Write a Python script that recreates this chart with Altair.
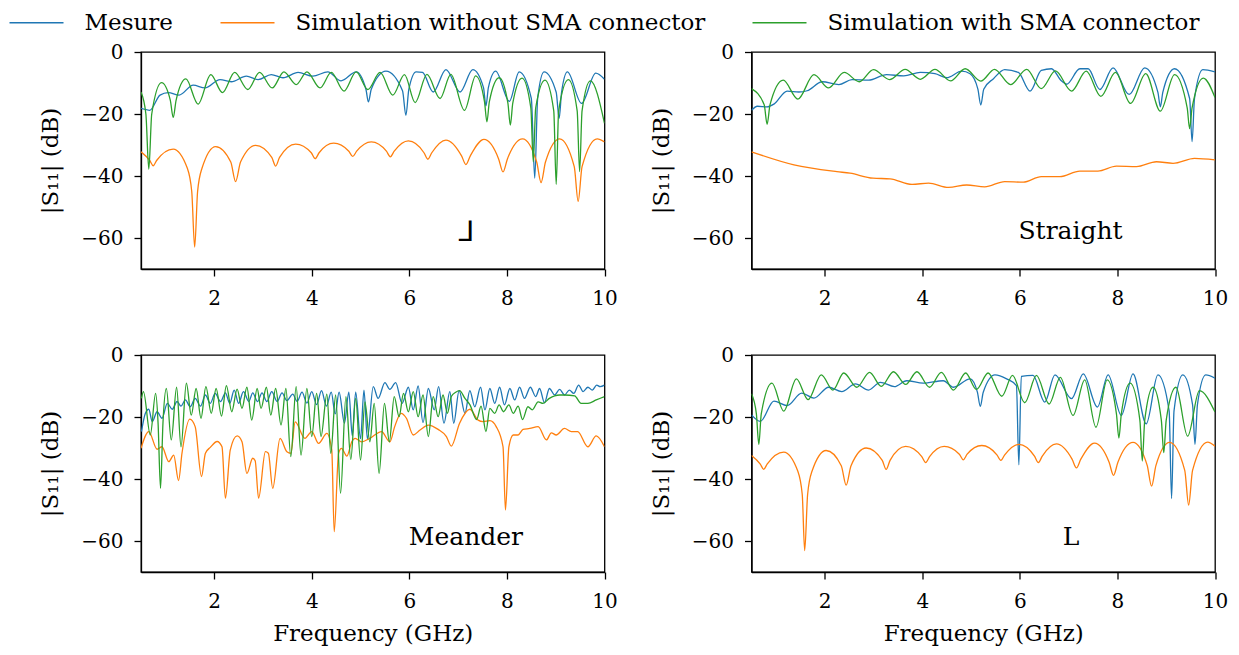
import altair as alt
import pandas as pd

SERIES = ["Mesure", "Simulation without SMA connector", "Simulation with SMA connector"]
COLORS = ["#1f77b4", "#ff7f0e", "#2ca02c"]

# ---------------- Panel "⅃" (top left) ----------------
J_MES = [(0.50,-18.2),(0.68,-18.8),(0.89,-13.9),(1.06,-13.1),(1.28,-13.9),(1.57,-10.7),(1.81,-11.6),
         (2.12,-8.9),(2.35,-9.6),(2.66,-7.8),(2.90,-8.9),(3.17,-7.3),(3.41,-8.3),(3.72,-6.6),(4.02,-7.8),
         (4.33,-6.4),(4.60,-9.3),(4.91,-6.4),(5.11,-12.0),(5.16,-16.1),(5.22,-12.0),(5.52,-6.2),(5.86,-12.5),
         (5.93,-20.4),(5.99,-12.0),(6.14,-6.4),(6.27,-6.6),(6.49,-12.9),(6.75,-5.7),(7.04,-12.9),(7.30,-5.7),
         (7.52,-11.5),(7.57,-17.4),(7.62,-11.5),(7.77,-6.2),(8.05,-15.9),(8.25,-6.4),(8.50,-15.0),(8.57,-40.7),
         (8.63,-15.0),(8.76,-6.4),(9.01,-13.0),(9.07,-21.4),(9.12,-13.0),(9.24,-6.4),(9.53,-16.6),(9.82,-6.8),
         (10.0,-8.8)]
J_NO = [(0.50,-32.2),(0.68,-35.0),(0.75,-36.7),(0.82,-35.0),(1.16,-31.3),(1.45,-37.5),(1.54,-45.0),(1.60,-62.9),
        (1.66,-45.0),(1.75,-37.5),(2.03,-30.5),(2.34,-35.5),(2.44,-41.8),(2.54,-35.5),(2.85,-30.1),(3.18,-34.0),
        (3.26,-36.8),(3.34,-34.0),(3.67,-29.7),(3.99,-32.5),(4.07,-34.4),(4.15,-32.5),(4.45,-29.4),(4.76,-32.0),
        (4.84,-33.7),(4.92,-32.0),(5.22,-29.0),(5.53,-32.0),(5.61,-33.8),(5.69,-32.0),(5.98,-28.7),(6.30,-32.5),
        (6.38,-34.6),(6.46,-32.5),(6.75,-28.4),(7.07,-33.5),(7.16,-36.3),(7.25,-33.5),(7.53,-28.2),(7.83,-34.5),
        (7.92,-38.7),(8.01,-34.5),(8.32,-28.0),(8.61,-35.5),(8.70,-42.1),(8.79,-35.5),(9.08,-28.0),(9.38,-37.0),
        (9.46,-48.2),(9.54,-37.0),(9.85,-28.0),(10.0,-29.0)]
J_SMA = [(0.50,-12.9),(0.60,-20.0),(0.66,-37.8),(0.72,-20.0),(0.92,-9.9),(1.10,-15.5),(1.16,-21.1),(1.22,-15.5),
         (1.42,-8.7),(1.67,-16.8),(1.93,-7.3),(2.17,-13.1),(2.42,-6.6),(2.69,-12.1),(2.93,-6.6),(3.19,-11.6),
         (3.43,-6.4),(3.68,-10.5),(3.90,-6.4),(4.17,-11.6),(4.40,-6.6),(4.66,-12.6),(4.91,-6.4),(5.15,-12.1),
         (5.40,-6.6),(5.66,-13.9),(5.90,-7.3),(6.12,-16.3),(6.36,-7.2),(6.63,-15.0),(6.85,-7.2),(7.13,-18.8),
         (7.36,-7.7),(7.54,-16.0),(7.59,-22.5),(7.64,-16.0),(7.84,-8.3),(8.02,-16.5),(8.07,-23.6),(8.12,-16.5),
         (8.31,-8.4),(8.49,-18.0),(8.54,-35.4),(8.59,-18.0),(8.78,-9.1),(8.96,-19.0),(9.01,-42.7),(9.06,-19.0),
         (9.26,-8.9),(9.44,-19.0),(9.49,-38.6),(9.54,-19.0),(9.71,-9.3),(10.0,-23.0)]

# ---------------- Panel "Straight" (top right) ----------------
S_MES = [(0.50,-18.8),(0.62,-17.5),(0.82,-17.7),(0.96,-16.8),(1.23,-12.6),(1.47,-12.9),(1.64,-12.5),(1.95,-9.6),
         (2.29,-10.5),(2.56,-8.9),(2.90,-9.1),(3.27,-7.3),(3.62,-7.7),(3.96,-6.6),(4.26,-7.0),(4.50,-8.3),
         (4.81,-6.2),(4.98,-7.0),(5.14,-12.0),(5.20,-17.1),(5.26,-12.0),(5.46,-8.6),(5.69,-5.7),(5.97,-6.6),
         (6.21,-12.6),(6.44,-5.9),(6.65,-5.4),(6.85,-9.3),(6.96,-10.4),(7.23,-5.4),(7.40,-5.4),(7.64,-12.1),
         (7.91,-5.1),(8.24,-13.7),(8.56,-5.1),(8.83,-13.0),(8.88,-17.7),(8.93,-13.0),(9.17,-5.4),(9.48,-15.0),
         (9.53,-28.9),(9.58,-15.0),(9.75,-5.7),(10.0,-6.4)]
S_NO = [(0.50,-32.2),(1.37,-36.4),(2.25,-38.6),(2.52,-39.1),(2.99,-40.7),(3.34,-40.9),(3.79,-42.7),(4.13,-42.3),
        (4.54,-43.7),(4.91,-42.9),(5.28,-43.5),(5.69,-41.8),(6.07,-42.0),(6.44,-40.2),(6.82,-40.2),(7.23,-38.4),
        (7.60,-38.4),(7.98,-36.8),(8.39,-37.0),(8.80,-35.4),(9.14,-35.9),(9.58,-34.3),(10.0,-34.8)]
S_SMA = [(0.50,-11.8),(0.76,-17.0),(0.82,-23.3),(0.88,-17.0),(1.15,-9.1),(1.45,-15.2),(1.78,-7.3),(2.08,-11.6),
         (2.40,-6.6),(2.71,-9.6),(3.00,-5.7),(3.33,-8.9),(3.65,-5.6),(3.96,-8.8),(4.26,-5.6),(4.58,-9.3),
         (4.88,-5.4),(5.20,-9.4),(5.48,-5.6),(5.81,-10.5),(6.14,-5.6),(6.44,-11.8),(6.73,-6.1),(7.06,-12.6),
         (7.36,-6.2),(7.66,-14.3),(7.96,-6.6),(8.27,-16.6),(8.58,-7.0),(8.88,-19.1),(9.17,-7.3),(9.43,-18.0),
         (9.48,-24.7),(9.53,-18.0),(9.76,-8.4),(10.0,-14.7)]

# ---------------- Panel "Meander" (bottom left) ----------------
M_MES = [(0.51,-24.7),(0.59,-18.8),(0.66,-17.5),(0.73,-21.5),(0.83,-18.3),(0.93,-20.4),(1.04,-15.6),(1.14,-17.5),
         (1.24,-15.0),(1.32,-16.5),(1.41,-14.5),(1.51,-16.7),(1.61,-14.0),(1.72,-16.5),(1.82,-12.9),(1.92,-15.6),
         (2.02,-12.4),(2.13,-15.0),(2.23,-12.2),(2.32,-15.6),(2.41,-11.3),(2.50,-15.6),(2.60,-11.8),(2.71,-15.0),
         (2.79,-12.2),(2.89,-15.0),(2.98,-12.2),(3.08,-15.0),(3.18,-11.8),(3.29,-15.0),(3.39,-12.2),(3.49,-14.7),
         (3.61,-12.6),(3.70,-15.0),(3.80,-12.0),(3.90,-15.5),(4.00,-11.8),(4.10,-16.0),(4.20,-11.5),(4.30,-16.5),
         (4.40,-12.0),(4.48,-19.0),(4.56,-12.0),(4.67,-22.0),(4.76,-12.0),(4.83,-26.0),(4.90,-12.0),(5.00,-27.0),
         (5.07,-11.3),(5.14,-27.0),(5.26,-10.2),(5.36,-14.0),(5.50,-8.9),(5.60,-11.1),(5.72,-8.9),(5.85,-15.6),
         (5.98,-10.4),(6.08,-17.7),(6.18,-10.0),(6.28,-21.8),(6.39,-10.8),(6.51,-17.7),(6.60,-10.2),(6.71,-22.0),
         (6.83,-11.8),(6.91,-22.0),(7.02,-11.5),(7.14,-18.8),(7.24,-11.5),(7.34,-16.7),(7.46,-10.4),(7.55,-17.7),
         (7.65,-10.8),(7.75,-15.6),(7.85,-10.4),(7.95,-16.1),(8.06,-10.8),(8.16,-14.5),(8.26,-10.4),(8.36,-14.0),
         (8.48,-10.4),(8.59,-13.4),(8.67,-10.8),(8.77,-15.4),(8.87,-10.8),(8.98,-12.9),(9.08,-11.1),(9.18,-12.9),
         (9.28,-11.3),(9.37,-12.4),(9.47,-9.7),(9.56,-11.8),(9.66,-10.4),(9.75,-11.3),(9.84,-9.7),(9.91,-10.2),
         (10.0,-9.7)]
M_NO = [(0.50,-30.1),(0.66,-24.7),(0.83,-30.4),(0.93,-29.6),(1.07,-34.4),(1.17,-32.3),(1.27,-40.5),(1.34,-31.7),
        (1.50,-20.7),(1.61,-23.1),(1.74,-39.2),(1.82,-31.7),(1.92,-29.8),(2.06,-27.9),(2.16,-29.6),(2.23,-46.2),
        (2.33,-30.6),(2.47,-26.1),(2.57,-28.0),(2.67,-38.2),(2.79,-33.3),(2.84,-34.1),(2.91,-46.2),(3.05,-31.2),
        (3.11,-31.7),(3.20,-43.0),(3.35,-26.9),(3.49,-31.2),(3.57,-31.7),(3.66,-21.6),(3.86,-26.9),(4.00,-24.7),
        (4.14,-28.5),(4.31,-25.3),(4.41,-30.6),(4.46,-57.0),(4.55,-31.7),(4.61,-30.1),(4.72,-32.6),(4.82,-28.0),
        (4.89,-26.9),(5.02,-28.0),(5.19,-26.9),(5.43,-24.7),(5.60,-28.0),(5.70,-23.1),(5.83,-18.8),(5.94,-20.4),
        (6.08,-25.8),(6.22,-24.2),(6.39,-22.6),(6.59,-24.0),(6.76,-26.3),(6.86,-29.4),(7.03,-22.0),(7.24,-17.5),
        (7.41,-21.0),(7.51,-21.5),(7.65,-21.2),(7.78,-23.1),(7.92,-29.6),(7.97,-50.0),(8.04,-29.6),(8.13,-25.8),
        (8.23,-25.8),(8.33,-24.0),(8.47,-23.7),(8.64,-23.1),(8.81,-27.4),(8.91,-25.1),(9.01,-25.8),(9.18,-23.7),
        (9.32,-24.7),(9.45,-24.7),(9.66,-29.6),(9.83,-26.1),(10.0,-29.6)]
M_SMA = [(0.51,-14.0),(0.55,-11.8),(0.69,-25.8),(0.80,-12.4),(0.85,-22.0),(0.90,-43.0),(0.95,-22.0),(1.02,-10.8),
         (1.12,-27.4),(1.23,-10.4),(1.32,-29.6),(1.43,-9.1),(1.53,-19.4),(1.63,-10.8),(1.73,-20.4),(1.83,-10.2),
         (1.94,-18.8),(2.04,-10.8),(2.15,-19.7),(2.25,-9.9),(2.36,-18.3),(2.47,-11.0),(2.57,-17.2),(2.67,-10.4),
         (2.77,-21.0),(2.88,-10.8),(2.96,-17.2),(3.07,-10.4),(3.16,-19.4),(3.26,-10.8),(3.37,-22.6),(3.47,-10.8),
         (3.57,-32.8),(3.68,-10.2),(3.78,-32.3),(3.90,-10.8),(4.00,-26.3),(4.10,-12.4),(4.19,-26.3),(4.31,-12.6),
         (4.39,-31.7),(4.49,-12.9),(4.59,-44.6),(4.70,-13.4),(4.80,-33.7),(4.90,-14.0),(5.00,-33.9),(5.09,-15.1),
         (5.19,-28.0),(5.28,-15.6),(5.38,-38.2),(5.49,-15.6),(5.59,-28.0),(5.69,-13.4),(5.79,-19.9),(5.88,-12.4),
         (5.98,-18.3),(6.08,-11.8),(6.18,-19.9),(6.28,-12.9),(6.39,-26.3),(6.49,-13.4),(6.59,-19.9),(6.69,-12.9),
         (6.78,-18.8),(6.86,-13.4),(6.95,-12.0),(7.03,-11.5),(7.14,-14.0),(7.24,-16.0),(7.38,-20.8),(7.47,-16.5),
         (7.57,-24.7),(7.65,-17.2),(7.75,-18.8),(7.84,-16.1),(7.93,-18.3),(8.04,-16.1),(8.13,-18.8),(8.23,-16.5),
         (8.32,-20.8),(8.43,-16.7),(8.52,-17.7),(8.64,-15.1),(8.74,-15.6),(8.87,-14.0),(9.08,-12.9),(9.18,-12.9),
         (9.39,-13.2),(9.52,-15.6),(9.66,-15.6),(9.83,-14.5),(10.0,-13.4)]

# ---------------- Panel "L" (bottom right) ----------------
L_MES = [(0.50,-19.3),(0.68,-21.4),(0.96,-14.9),(1.23,-16.3),(1.53,-12.3),(1.78,-13.9),(2.08,-10.4),(2.35,-11.8),
         (2.63,-9.3),(2.90,-11.3),(3.14,-8.8),(3.43,-10.2),(3.68,-8.3),(4.02,-9.1),(4.43,-8.3),(4.64,-10.4),
         (4.98,-7.7),(5.13,-12.0),(5.19,-16.6),(5.25,-12.0),(5.49,-6.4),(5.73,-7.7),(5.93,-9.9),(5.98,-35.4),
         (6.03,-6.9),(6.27,-6.6),(6.51,-15.2),(6.72,-6.4),(7.06,-14.1),(7.30,-6.1),(7.59,-16.8),(7.81,-6.4),
         (8.08,-19.5),(8.32,-6.1),(8.59,-22.2),(8.83,-6.4),(9.06,-18.0),(9.11,-46.3),(9.16,-18.0),(9.34,-6.4),
         (9.54,-16.0),(9.59,-28.8),(9.64,-16.0),(9.81,-6.4),(10.0,-7.5)]
L_NO = [(0.50,-32.4),(0.68,-35.2),(0.75,-36.9),(0.82,-35.2),(1.16,-31.3),(1.45,-37.5),(1.54,-45.0),(1.59,-63.1),
        (1.65,-45.0),(1.74,-37.5),(2.03,-30.8),(2.34,-35.7),(2.44,-42.0),(2.54,-35.7),(2.85,-30.0),(3.18,-34.0),
        (3.26,-36.9),(3.34,-34.0),(3.66,-29.5),(3.99,-32.8),(4.07,-34.7),(4.15,-32.8),(4.45,-29.5),(4.76,-32.0),
        (4.84,-33.8),(4.92,-32.0),(5.22,-29.2),(5.53,-32.2),(5.61,-34.0),(5.69,-32.2),(5.98,-28.8),(6.30,-32.6),
        (6.38,-34.7),(6.46,-32.6),(6.75,-28.7),(7.07,-33.6),(7.16,-36.4),(7.25,-33.6),(7.53,-28.4),(7.83,-34.6),
        (7.92,-38.8),(8.01,-34.6),(8.32,-28.2),(8.61,-35.6),(8.70,-42.3),(8.79,-35.6),(9.07,-28.2),(9.38,-37.2),
        (9.46,-48.4),(9.54,-37.2),(9.85,-28.1),(10.0,-29.4)]
L_SMA = [(0.50,-12.5),(0.60,-19.0),(0.65,-28.8),(0.70,-19.0),(0.92,-9.1),(1.16,-18.1),(1.42,-7.7),(1.66,-14.4),
         (1.93,-6.4),(2.17,-11.3),(2.39,-5.8),(2.66,-10.4),(2.92,-5.6),(3.16,-10.1),(3.41,-5.4),(3.66,-9.5),
         (3.89,-5.4),(4.15,-10.4),(4.39,-5.6),(4.64,-11.3),(4.89,-5.8),(5.11,-11.1),(5.35,-5.8),(5.63,-13.3),
         (5.85,-6.6),(6.10,-15.4),(6.34,-6.6),(6.60,-15.8),(6.83,-7.2),(7.09,-19.5),(7.33,-8.0),(7.56,-23.3),
         (7.79,-8.0),(7.98,-19.0),(8.03,-26.8),(8.08,-19.0),(8.26,-9.1),(8.46,-21.0),(8.51,-34.2),(8.56,-21.0),
         (8.73,-10.4),(8.90,-21.0),(8.95,-31.5),(9.00,-21.0),(9.20,-10.4),(9.44,-26.2),(9.68,-11.5),(10.0,-18.4)]

# panel names and the data position of each name
PANEL_NAMES = ["\u2143", "Straight", "Meander", "L"]
NAME_F = [7.17, 7.04, 7.16, 7.05]
NAME_DB = [-58.4, -57.7, -58.6, -58.6]

FONT = "DejaVu Serif"

legend = alt.Legend(
    orient="none", legendX=-132.5, legendY=-44, direction="horizontal", title=None,
    symbolType="M-1,0H3", symbolSize=729, symbolStrokeWidth=1.5,
    labelFont=FONT, labelFontSize=23, labelColor="black", labelOffset=47,
    columnPadding=44, padding=0, labelLimit=0,
)


def series_frame(mes, no, sma):
    rows = []
    for name, pts in zip(SERIES, [mes, no, sma]):
        for i, (f, d) in enumerate(pts):
            rows.append({"f": f, "db": d, "series": name, "i": i})
    return pd.DataFrame(rows)


def panel(mes, no, sma, k, bottom):
    df = series_frame(mes, no, sma)
    xaxis = alt.Axis(values=[2, 4, 6, 8, 10], format="d", labelFlush=False, labelOverlap=False,
                     title="Frequency (GHz)" if bottom else None, labelPadding=12, titlePadding=11)
    yaxis = alt.Axis(values=[0, -20, -40, -60], format="d", labelFlush=False, labelOverlap=False,
                     title="|S\u2081\u2081| (dB)", labelPadding=11, titlePadding=18)
    x = alt.X("f:Q", scale=alt.Scale(domain=[0.5, 10], nice=False, zero=False), axis=xaxis)
    y = alt.Y("db:Q", scale=alt.Scale(domain=[-70, 0], nice=False, zero=False), axis=yaxis)
    lines = alt.Chart(df).mark_line(strokeWidth=1.3, interpolate="monotone", clip=True).encode(
        x=x, y=y,
        color=alt.Color("series:N", scale=alt.Scale(domain=SERIES, range=COLORS), legend=legend),
        detail="series:N",
        order="i:Q",
    )
    lab = pd.DataFrame({"f": [NAME_F[k]], "db": [NAME_DB[k]], "name": [PANEL_NAMES[k]]})
    size = 28 if k == 0 else 25
    text = alt.Chart(lab).mark_text(font=FONT, fontSize=size, align="center", baseline="middle",
                                    color="black").encode(x="f:Q", y="db:Q", text="name:N")
    return alt.layer(lines, text).properties(width=463.5, height=217)


p1 = panel(J_MES, J_NO, J_SMA, 0, False)
p2 = panel(S_MES, S_NO, S_SMA, 1, False)
p3 = panel(M_MES, M_NO, M_SMA, 2, True)
p4 = panel(L_MES, L_NO, L_SMA, 3, True)

chart = alt.concat(p1, p2, p3, p4, columns=2, spacing={"row": 86, "column": 146.5}, bounds="flush").properties(
    padding=0, background="white"
).configure_view(
    stroke="black", strokeWidth=1.3
).configure_axis(
    domainColor="black", domainWidth=1.3, tickColor="black", tickWidth=1.3, tickSize=7,
    labelFont=FONT, labelFontSize=20, labelColor="black",
    titleFont=FONT, titleFontSize=23, titleFontWeight="normal", titleColor="black", grid=False,
)

chart.save("out.html", embed_options={"renderer": "svg", "actions": False})
